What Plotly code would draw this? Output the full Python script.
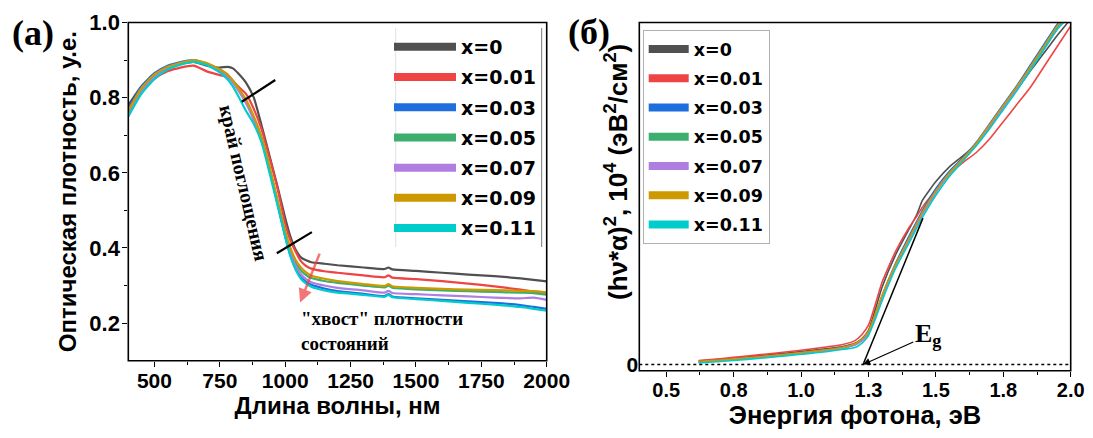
import plotly.graph_objects as go

W, H = 1093, 438

# ---------------- data: panel (a) optical density vs wavelength ----------------
wavelength_nm = [400, 450, 500, 550, 600, 650, 700, 750, 780, 800, 820, 850, 880, 910, 940, 970,
                 1000, 1020, 1040, 1060, 1080, 1100, 1150, 1200, 1300, 1380, 1395, 1410, 1500,
                 1600, 1700, 1800, 1900, 1950, 2000]

od_x000 = [0.78, 0.83, 0.86, 0.88, 0.89, 0.895, 0.885, 0.88, 0.882, 0.878, 0.865, 0.84, 0.80, 0.725,
           0.645, 0.565, 0.48, 0.43, 0.395, 0.375, 0.367, 0.362, 0.358, 0.354, 0.348, 0.344, 0.348,
           0.343, 0.339, 0.334, 0.329, 0.325, 0.319, 0.315, 0.311]
od_x001 = [0.76, 0.815, 0.85, 0.87, 0.88, 0.885, 0.87, 0.86, 0.855, 0.845, 0.83, 0.81, 0.77, 0.715,
           0.64, 0.56, 0.465, 0.42, 0.39, 0.365, 0.352, 0.345, 0.338, 0.334, 0.327, 0.322, 0.327,
           0.321, 0.317, 0.312, 0.305, 0.298, 0.289, 0.284, 0.279]
od_x003 = [0.77, 0.83, 0.865, 0.885, 0.895, 0.90, 0.89, 0.875, 0.86, 0.845, 0.825, 0.79, 0.745, 0.69,
           0.61, 0.52, 0.43, 0.38, 0.345, 0.323, 0.31, 0.302, 0.292, 0.285, 0.278, 0.272, 0.277,
           0.271, 0.266, 0.262, 0.258, 0.254, 0.248, 0.243, 0.238]
od_x005 = [0.76, 0.82, 0.858, 0.878, 0.89, 0.895, 0.888, 0.872, 0.858, 0.842, 0.822, 0.79, 0.745, 0.69,
           0.612, 0.525, 0.44, 0.395, 0.36, 0.34, 0.328, 0.32, 0.312, 0.307, 0.30, 0.295, 0.30,
           0.294, 0.29, 0.287, 0.285, 0.283, 0.281, 0.28, 0.276]
od_x007 = [0.755, 0.815, 0.855, 0.878, 0.89, 0.897, 0.888, 0.87, 0.855, 0.84, 0.82, 0.785, 0.74, 0.685,
           0.608, 0.52, 0.435, 0.388, 0.352, 0.33, 0.317, 0.309, 0.30, 0.294, 0.287, 0.281, 0.286,
           0.28, 0.277, 0.274, 0.271, 0.268, 0.266, 0.268, 0.262]
od_x009 = [0.765, 0.825, 0.862, 0.882, 0.893, 0.90, 0.892, 0.875, 0.862, 0.845, 0.826, 0.795, 0.75, 0.695,
           0.618, 0.53, 0.445, 0.40, 0.368, 0.348, 0.335, 0.327, 0.318, 0.312, 0.304, 0.299, 0.304,
           0.298, 0.294, 0.291, 0.289, 0.288, 0.286, 0.285, 0.282]
od_x011 = [0.75, 0.81, 0.85, 0.875, 0.888, 0.895, 0.887, 0.867, 0.848, 0.83, 0.805, 0.765, 0.73, 0.68,
           0.60, 0.515, 0.43, 0.378, 0.342, 0.318, 0.305, 0.297, 0.287, 0.281, 0.275, 0.27, 0.275,
           0.269, 0.264, 0.259, 0.254, 0.249, 0.243, 0.238, 0.233]

# ---------------- data: panel (б) Tauc plot ----------------
energy_ev = [0.62, 0.7, 0.8, 0.9, 1.0, 1.1, 1.15, 1.2, 1.225, 1.25, 1.275, 1.3, 1.35, 1.4, 1.43, 1.45,
             1.5, 1.55, 1.6, 1.65, 1.7, 1.75, 1.8, 1.85, 1.9, 1.95, 2.0]

tauc_x000 = [0.10, 0.15, 0.22, 0.30, 0.38, 0.47, 0.52, 0.62, 0.75, 1.0, 1.6, 2.25, 3.2, 3.95, 4.4, 4.8,
             5.35, 5.78, 6.1, 6.45, 6.95, 7.5, 8.03, 8.58, 9.1, 9.62, 10.1]
tauc_x001 = [0.12, 0.17, 0.25, 0.33, 0.42, 0.52, 0.58, 0.70, 0.87, 1.15, 1.75, 2.4, 3.3, 4.0, 4.35, 4.6,
             5.1, 5.55, 5.9, 6.2, 6.6, 7.1, 7.6, 8.1, 8.7, 9.3, 9.9]
tauc_x003 = [0.08, 0.12, 0.19, 0.26, 0.34, 0.43, 0.49, 0.60, 0.72, 0.95, 1.45, 2.0, 2.95, 3.75, 4.2, 4.5,
             5.15, 5.65, 6.05, 6.5, 7.05, 7.6, 8.15, 8.75, 9.35, 9.95, 10.5]
tauc_x005 = [0.08, 0.12, 0.18, 0.25, 0.33, 0.42, 0.48, 0.58, 0.70, 0.92, 1.42, 1.97, 2.9, 3.65, 4.1, 4.4,
             5.05, 5.6, 6.0, 6.45, 7.0, 7.55, 8.1, 8.65, 9.25, 9.85, 10.4]
tauc_x007 = [0.07, 0.11, 0.17, 0.24, 0.32, 0.41, 0.47, 0.57, 0.69, 0.90, 1.4, 1.95, 2.88, 3.62, 4.08, 4.38,
             5.02, 5.57, 5.98, 6.42, 6.97, 7.5, 8.05, 8.62, 9.2, 9.8, 10.3]
tauc_x009 = [0.09, 0.13, 0.20, 0.27, 0.35, 0.44, 0.50, 0.61, 0.74, 0.97, 1.47, 2.02, 2.92, 3.68, 4.15, 4.45,
             5.08, 5.6, 6.02, 6.47, 7.02, 7.57, 8.12, 8.7, 9.3, 9.9, 10.35]
tauc_x011 = [0.05, 0.09, 0.15, 0.22, 0.30, 0.38, 0.44, 0.50, 0.62, 0.85, 1.32, 1.85, 2.8, 3.55, 4.0, 4.3,
             4.95, 5.5, 5.95, 6.4, 6.9, 7.45, 8.0, 8.6, 9.2, 9.8, 10.2]

series_labels = ["x=0", "x=0.01", "x=0.03", "x=0.05", "x=0.07", "x=0.09", "x=0.11"]
series_colors = ["#505050", "#ee4444", "#1e6fdd", "#3cae6e", "#b07ee0", "#cc9900", "#00cccc"]

x_ticks_nm = [500, 750, 1000, 1250, 1500, 1750, 2000]
y_ticks_od = [0.2, 0.4, 0.6, 0.8, 1.0]
x_ticks_ev = [0.5, 0.75, 1.0, 1.25, 1.5, 1.75, 2.0]
x_ticktext_ev = ["0.5", "0.8", "1.0", "1.3", "1.5", "1.8", "2.0"]

# band gap tangent (energy, value)
eg_ev = 1.23
tangent_end = (1.452, 4.28)

od_series = [od_x000, od_x001, od_x003, od_x005, od_x007, od_x009, od_x011]
tauc_series = [tauc_x000, tauc_x001, tauc_x003, tauc_x005, tauc_x007, tauc_x009, tauc_x011]

SANS = "Liberation Sans"
WIDE = "DejaVu Sans"
SERIF = "Liberation Serif"

def b(t):
    return "<b>" + t + "</b>"

fig = go.Figure()

for lab, col, ys in zip(series_labels, series_colors, od_series):
    fig.add_trace(go.Scatter(x=wavelength_nm, y=ys, mode="lines", name=lab,
                             line=dict(color=col, width=2.2, shape="spline", smoothing=0.5),
                             showlegend=False, xaxis="x", yaxis="y"))
for lab, col, ys in zip(series_labels, series_colors, tauc_series):
    fig.add_trace(go.Scatter(x=energy_ev, y=ys, mode="lines", name=lab,
                             line=dict(color=col, width=1.6, shape="spline", smoothing=0.5),
                             showlegend=False, xaxis="x2", yaxis="y2"))
# legend entries (thick lines)
for i, (lab, col) in enumerate(zip(series_labels, series_colors)):
    fig.add_trace(go.Scatter(x=[None], y=[None], mode="lines", name=b(lab),
                             line=dict(color=col, width=8), legend="legend", legendgroup=f"a{i}",
                             xaxis="x", yaxis="y"))
for i, (lab, col) in enumerate(zip(series_labels, series_colors)):
    fig.add_trace(go.Scatter(x=[None], y=[None], mode="lines", name=b(lab),
                             line=dict(color=col, width=8), legend="legend2", legendgroup=f"b{i}",
                             xaxis="x2", yaxis="y2"))

def px(xp):
    return xp / W

def py(yp):
    return 1 - yp / H

axis_common = dict(showline=False, mirror=False,
                   ticks="outside", ticklen=5, tickwidth=1.3, tickcolor="black",
                   showgrid=False, zeroline=False, automargin=False)
minor_common = dict(ticks="outside", ticklen=3, tickwidth=1.2, tickcolor="black")

fig.update_layout(
    template="none",
    width=W, height=H, autosize=False,
    margin=dict(l=0, r=0, t=0, b=0, pad=0),
    paper_bgcolor="white", plot_bgcolor="white",
    xaxis=dict(domain=[px(128.3), px(546.7)], range=[400, 2000], anchor="y",
               tickvals=x_ticks_nm, ticktext=[b(str(v)) for v in x_ticks_nm],
               minor=dict(tickvals=[625, 875, 1125, 1375, 1625, 1875], **minor_common),
               tickfont=dict(family=SANS, size=21, color="black"), ticklabelstandoff=-4,
               title=dict(text=b("Длина волны, нм"), standoff=6,
                          font=dict(family=SANS, size=24, color="black")),
               **axis_common),
    yaxis=dict(domain=[py(360.7), py(22.5)], range=[0.1, 1.0], anchor="x",
               tickvals=y_ticks_od, ticktext=[b(f"{v:.1f}") for v in y_ticks_od],
               minor=dict(tickvals=[0.3, 0.5, 0.7, 0.9], **minor_common),
               tickfont=dict(family=SANS, size=22, color="black"), ticklabelstandoff=-2,
               title=dict(text=b("Оптическая плотность, у.е."), standoff=5,
                          font=dict(family=SANS, size=24, color="black")),
               **axis_common),
    xaxis2=dict(domain=[px(639.3), px(1070.7)], range=[0.4, 2.0], anchor="y2",
                tickvals=x_ticks_ev, ticktext=[b(t) for t in x_ticktext_ev],
                minor=dict(tickvals=[0.625, 0.875, 1.125, 1.375, 1.625, 1.875], **minor_common),
                tickfont=dict(family=SANS, size=20, color="black"), ticklabelstandoff=-4,
                title=dict(text=b("Энергия фотона, эВ"), standoff=2,
                           font=dict(family=SANS, size=25.5, color="black")),
                **axis_common),
    yaxis2=dict(domain=[py(370.7), py(22.5)], range=[-0.18, 10.0], anchor="x2",
                tickvals=[0], ticktext=[b("0")],
                tickfont=dict(family=SANS, size=21, color="black"),
                **{**axis_common, "ticks": ""}),
    legend=dict(x=px(389), y=py(28), xanchor="left", yanchor="top",
                itemwidth=62, bgcolor="rgba(0,0,0,0)", borderwidth=0,
                font=dict(family=WIDE, size=19, color="black"),
                tracegroupgap=2.5),
    legend2=dict(x=px(642.7), y=py(30), xanchor="left", yanchor="top",
                 itemwidth=40, bgcolor="white", bordercolor="#b0b0b0", borderwidth=1,
                 font=dict(family=WIDE, size=17.5, color="black"),
                 tracegroupgap=3.5),
)

shapes = [
    # panel frames
    dict(type="rect", xref="x domain", yref="y domain", x0=0, x1=1, y0=0, y1=1,
         line=dict(color="black", width=1.6), layer="above"),
    dict(type="rect", xref="x2 domain", yref="y2 domain", x0=0, x1=1, y0=0, y1=1,
         line=dict(color="black", width=1.6), layer="above"),
    # left legend side rules
    dict(type="line", xref="paper", yref="paper", x0=px(395.7), x1=px(395.7), y0=py(28), y1=py(247),
         line=dict(color="#e0e0e0", width=1)),
    dict(type="line", xref="paper", yref="paper", x0=px(541.7), x1=px(541.7), y0=py(28), y1=py(247),
         line=dict(color="#777777", width=1)),
    # absorption edge markers
    dict(type="line", xref="x", yref="y", x0=834, y0=0.789, x1=962, y1=0.847,
         line=dict(color="black", width=2.2)),
    dict(type="line", xref="x", yref="y", x0=968, y0=0.386, x1=1102, y1=0.442,
         line=dict(color="black", width=2.2)),
    # zero baseline
    dict(type="line", xref="x2 domain", yref="y2", x0=0, x1=1, y0=0, y1=0,
         line=dict(color="black", width=1.5, dash="dot")),
    # tangent
    dict(type="line", xref="x2", yref="y2", x0=eg_ev, y0=0, x1=tangent_end[0], y1=tangent_end[1],
         line=dict(color="black", width=1.5)),
]
fig.update_layout(shapes=shapes)

annotations = [
    dict(text=b("(a)"), xref="paper", yref="paper", x=px(33), y=py(33), xanchor="center", yanchor="middle",
         showarrow=False, font=dict(family=SERIF, size=36, color="black")),
    dict(text=b("(б)"), xref="paper", yref="paper", x=px(589), y=py(32), xanchor="center", yanchor="middle",
         showarrow=False, font=dict(family=SERIF, size=36, color="black")),
    dict(text=b("край поглощения"), xref="paper", yref="paper", x=px(244), y=py(183),
         xanchor="center", yanchor="middle", showarrow=False,
         textangle=77, font=dict(family=SERIF, size=20, color="black")),
    dict(text=b("\"хвост\" плотности<br>состояний"), xref="paper", yref="paper", x=px(299), y=py(306),
         xanchor="left", yanchor="top", align="left", showarrow=False,
         font=dict(family=SERIF, size=19, color="black")),
    dict(text="", x=1057, y=0.255, xref="x", yref="y", ax=1134, ay=0.389, axref="x", ayref="y",
         showarrow=True, arrowhead=2, arrowsize=1.1, arrowwidth=2.5, arrowcolor="rgba(240,60,60,0.7)"),
    dict(text=b("E<sub>g</sub>"), x=eg_ev, y=0, xref="x2", yref="y2", ax=1.47, ay=0.85,
         axref="x2", ayref="y2", showarrow=True, arrowhead=2, arrowsize=1.2, arrowwidth=1.2,
         arrowcolor="black", font=dict(family=SERIF, size=26, color="black")),
    dict(text=b("(hν*α)<sup>2</sup>, 10<sup>4</sup> (эВ<sup>2</sup>/см<sup>2</sup>)"), xref="paper", yref="paper",
         x=px(616), y=py(172), xanchor="center", yanchor="middle", textangle=-90, showarrow=False,
         font=dict(family=SANS, size=26, color="black")),
]
fig.update_layout(annotations=annotations)

fig.write_html("out.html", config={"displayModeBar": False},
               post_script="document.body.style.margin='0';document.body.style.padding='0';")
